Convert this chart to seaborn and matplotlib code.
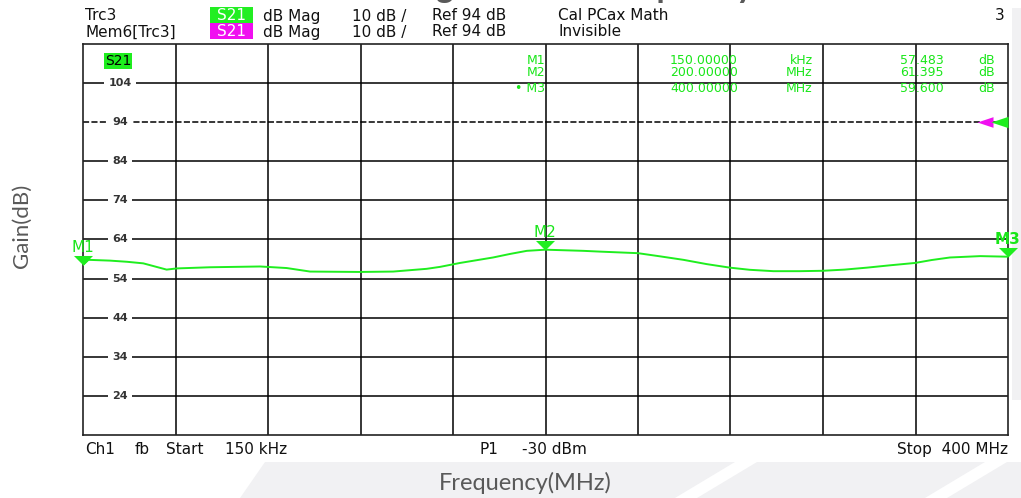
import numpy as np
import pandas as pd
import matplotlib
matplotlib.use("Agg")
import matplotlib.pyplot as plt
from matplotlib.patches import Rectangle, Polygon
from matplotlib.transforms import ScaledTranslation, blended_transform_factory
import seaborn as sns

# ---- measured S21 trace (frequency in MHz, gain in dB) ----
freq_mhz = [0.15, 2.5, 11.8, 19.2, 26.2, 36.3, 40.6, 55.0, 76.7, 88.2, 98.3,
            119.9, 134.2, 148.7, 154.5, 163.1, 177.4, 184.7, 192.0, 200.0,
            216.4, 223.7, 240.1, 249.5, 259.7, 269.8, 279.8, 288.4, 298.6,
            310.0, 320.0, 329.3, 339.0, 349.0, 359.8, 367.0, 374.9, 388.0, 400.0]
gain_db = [57.483, 58.8, 58.6, 58.3, 57.9, 56.3, 56.6, 56.9, 57.1, 56.7, 55.8,
           55.7, 55.8, 56.5, 57.0, 58.0, 59.4, 60.3, 61.1, 61.395,
           61.1, 60.9, 60.5, 59.7, 58.8, 57.7, 56.8, 56.25, 55.9,
           55.9, 56.0, 56.3, 56.8, 57.4, 58.0, 58.75, 59.4, 59.75, 59.6]

# ---- markers ----
marker_names = ["M1", "M2", "M3"]
marker_freq = [0.15, 200.0, 400.0]
marker_gain = [57.483, 61.395, 59.6]
marker_freq_text = ["150.00000", "200.00000", "400.00000"]
marker_unit_text = ["kHz", "MHz", "MHz"]
marker_gain_text = ["57.483", "61.395", "59.600"]

# ---- display scale ----
start_mhz, stop_mhz = 0.15, 400.0
ref_level_db = 94
db_per_div = 10
n_div = 10
gain_ticks = [104, 94, 84, 74, 64, 54, 44, 34, 24]

trace_green = "#1fee1f"
text_green = "#19e619"
mem_magenta = "#f010f0"

sns.set_style("white")
plt.rcParams["font.family"] = ["DejaVu Sans"]

W, H = 1021, 498
fig = plt.figure(figsize=(W / 100, H / 100), dpi=100)
fig.patch.set_facecolor("white")


def fx(px):
    return px / W


def fy(py):
    return 1 - py / H


# faint slide background shapes
fig.add_artist(Polygon([(fx(265), fy(462)), (fx(1021), fy(462)), (fx(1021), fy(498)), (fx(240), fy(498))],
                       closed=True, transform=fig.transFigure, fc="#f1f1f3", ec="none", zorder=0))
for top_x in (735, 985):
    fig.add_artist(Polygon([(fx(top_x), fy(462)), (fx(top_x + 22), fy(462)),
                            (fx(top_x - 38), fy(498)), (fx(top_x - 60), fy(498))],
                           closed=True, transform=fig.transFigure, fc="white", ec="none", zorder=0))
fig.add_artist(Rectangle((fx(1012), fy(400)), fx(9), (400 - 8) / H, transform=fig.transFigure,
                         fc="#f1f1f3", ec="none", zorder=0))

ax = fig.add_axes([fx(83), 1 - 435 / H, 925 / W, 391 / H])
ax.set_facecolor("white")

bottom_db = ref_level_db - 8 * db_per_div
top_db = bottom_db + n_div * db_per_div
ax.set_xlim(start_mhz, stop_mhz)
ax.set_ylim(bottom_db, top_db)

# graticule
for xv in np.linspace(start_mhz, stop_mhz, n_div + 1)[1:-1]:
    ax.axvline(xv, color="black", lw=1.1, zorder=1)
for yv in gain_ticks:
    ax.axhline(yv, color="black", lw=1.1, zorder=1,
               ls=(0, (4, 1.5)) if yv == ref_level_db else "-")

trace = pd.DataFrame({"Frequency (MHz)": freq_mhz, "Gain (dB)": gain_db})
sns.lineplot(data=trace, x="Frequency (MHz)", y="Gain (dB)", ax=ax,
             color=trace_green, lw=1.4, zorder=3)

ax.set_xticks([])
ax.set_yticks([])
ax.set_xlabel("")
ax.set_ylabel("")
for side in ("left", "right", "top", "bottom"):
    ax.spines[side].set_visible(True)
    ax.spines[side].set_color("#222222")
    ax.spines[side].set_linewidth(1.2)

# scale labels drawn inside the diagram
lab_tr = blended_transform_factory(ax.transAxes, ax.transData)
for yv in gain_ticks:
    ax.text(0.04, yv, str(yv), transform=lab_tr, ha="center", va="center",
            fontsize=8, fontweight="bold", color="#333333", zorder=4,
            bbox=dict(fc="white", ec="none", pad=3.2))

# trace label box
ax.text(0.024, 0.957, "S21", transform=ax.transAxes, ha="left", va="center",
        fontsize=10, color="black", zorder=5,
        bbox=dict(fc=trace_green, ec="none", pad=0.6))

# marker triangles (tip on the trace point)
tri_down = [(-1, 1), (1, 1), (0, 0)]
ax.plot(marker_freq, marker_gain, ls="none", marker=tri_down, ms=13.7,
        color=trace_green, mec="none", clip_on=False, zorder=6)
for name, f, g in zip(marker_names, marker_freq, marker_gain):
    ax.annotate(name, (f, g), xytext=(0, 12.5), textcoords="offset points",
                ha="center", va="center", fontsize=11, color=text_green,
                fontweight="bold" if name == "M3" else "normal",
                annotation_clip=False, zorder=6)

# reference level arrows at the right edge
tri_left = [(0, -0.5), (0, 0.5), (-1.5, 0)]
ax.plot([stop_mhz], [ref_level_db], ls="none", marker=tri_left, ms=23,
        color=mem_magenta, mec="none", clip_on=False, zorder=6,
        transform=ax.transData + ScaledTranslation(-0.15, 0, fig.dpi_scale_trans))
ax.plot([stop_mhz], [ref_level_db], ls="none", marker=tri_left, ms=24.5,
        color=trace_green, mec="none", clip_on=False, zorder=7)

# marker readout table
row_y = [0.959, 0.928, 0.887]
for i, name in enumerate(marker_names):
    y = row_y[i]
    label = ("\u2022 " + name) if name == "M3" else name
    kw = dict(transform=ax.transAxes, va="center", fontsize=9, color=text_green, zorder=5)
    ax.text(0.4995, y, label, ha="right", **kw)
    ax.text(0.708, y, marker_freq_text[i], ha="right", **kw)
    ax.text(0.789, y, marker_unit_text[i], ha="right", **kw)
    ax.text(0.930, y, marker_gain_text[i], ha="right", **kw)
    ax.text(0.986, y, "dB", ha="right", **kw)

# channel header
hdr = dict(fontsize=11, color="#111111", va="center")
fig.text(fx(85), fy(16), "Trc3", **hdr)
fig.text(fx(85), fy(32), "Mem6[Trc3]", **hdr)
fig.add_artist(Rectangle((fx(210), fy(23)), fx(43), 16 / H, transform=fig.transFigure,
                         fc="#22ee22", ec="none"))
fig.add_artist(Rectangle((fx(210), fy(39)), fx(43), 16 / H, transform=fig.transFigure,
                         fc=mem_magenta, ec="none"))
fig.text(fx(231), fy(15.5), "S21", ha="center", va="center", fontsize=11, color="white")
fig.text(fx(231), fy(31.5), "S21", ha="center", va="center", fontsize=11, color="white")
for py in (16, 32):
    fig.text(fx(263), fy(py), "dB Mag", **hdr)
    fig.text(fx(352), fy(py), "10 dB /", **hdr)
    fig.text(fx(432), fy(py), "Ref 94 dB", **hdr)
fig.text(fx(558), fy(16), "Cal PCax Math", **hdr)
fig.text(fx(558), fy(32), "Invisible", **hdr)
fig.text(fx(1005), fy(16), "3", ha="right", **hdr)

# channel footer
fig.text(fx(85), fy(449), "Ch1", **hdr)
fig.text(fx(135), fy(449), "fb", **hdr)
fig.text(fx(166), fy(449), "Start", **hdr)
fig.text(fx(225), fy(449), "150 kHz", **hdr)
fig.text(fx(479), fy(449), "P1", **hdr)
fig.text(fx(522), fy(449), "-30 dBm", **hdr)
fig.text(fx(1008), fy(449), "Stop  400 MHz", ha="right", **hdr)

# axis titles and heading
fig.text(fx(525), fy(483), "Frequency(MHz)", ha="center", va="center",
         fontsize=17, family="Lato", color="#595959")
fig.text(fx(22), fy(226), "Gain(dB)", ha="center", va="center", rotation=90,
         fontsize=16, family="Lato", color="#595959")
fig.text(fx(555), 1 + 2 / H, "Voltage Gain vs Frequency", ha="center", va="baseline",
         fontsize=24, family="Lato", fontweight="bold", color="#595959")

fig.savefig("out.png", dpi=100, facecolor="white")
